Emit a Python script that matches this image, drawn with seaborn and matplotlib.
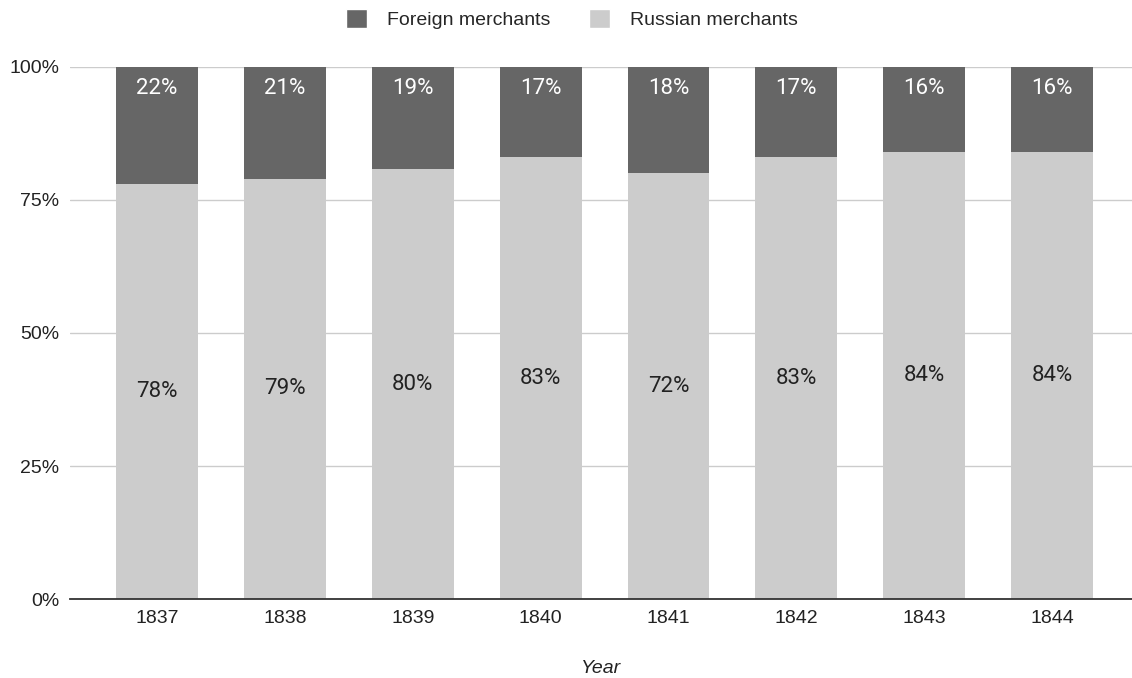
import matplotlib
matplotlib.use("Agg")
import matplotlib.pyplot as plt
import seaborn as sns
import pandas as pd
from matplotlib.patches import Patch
from matplotlib.ticker import FuncFormatter

# data (labels are raw values, bars are normalised to 100%)
years = ["1837", "1838", "1839", "1840", "1841", "1842", "1843", "1844"]
russian = [78, 79, 80, 83, 72, 83, 84, 84]
foreign = [22, 21, 19, 17, 18, 17, 16, 16]

df = pd.DataFrame({"Year": years, "Russian": russian, "Foreign": foreign})
df["Total"] = df["Russian"] + df["Foreign"]
df["russian_share"] = df["Russian"] / df["Total"]
df["full"] = 1.0

sns.set_style("white")
plt.rcParams["font.family"] = ["Liberation Sans", "DejaVu Sans"]

fig = plt.figure(figsize=(11.32, 6.78), dpi=100)
ax = fig.add_axes([0.062, 0.1165, 0.938, 0.7847])

dark = "#666666"
light = "#cccccc"

# full bar in foreign colour, russian share drawn over it
sns.barplot(data=df, x="Year", y="full", color=dark, width=0.64, ax=ax,
            saturation=1, linewidth=0, zorder=2)
sns.barplot(data=df, x="Year", y="russian_share", color=light, width=0.64, ax=ax,
            saturation=1, linewidth=0, zorder=3)

lab_font = ["Roboto", "DejaVu Sans"]
for i, row in df.iterrows():
    ax.text(i, 0.96, f"{row['Foreign']}%", ha="center", va="center",
            color="white", fontsize=16, family=lab_font, zorder=5)
    ax.text(i, row["russian_share"] / 2, f"{row['Russian']}%", ha="center", va="center",
            color="#222222", fontsize=16, family=lab_font, zorder=5)

ax.set_ylim(0, 1)
ax.set_xlim(-0.68, 7.626)
ax.set_yticks([0, 0.25, 0.5, 0.75, 1.0])
ax.yaxis.set_major_formatter(FuncFormatter(lambda v, p: f"{v*100:.0f}%"))
ax.grid(axis="y", color="#cccccc", linewidth=1, zorder=0)
ax.set_axisbelow(True)

for s in ["top", "right", "left"]:
    ax.spines[s].set_visible(False)
ax.spines["bottom"].set_color("#333333")
ax.spines["bottom"].set_linewidth(1.3)
ax.spines["bottom"].set_zorder(6)

ax.tick_params(axis="both", length=0, labelsize=14, labelcolor="#222222")
ax.tick_params(axis="x", pad=8)
ax.tick_params(axis="y", pad=8)
ax.set_ylabel("")
ax.set_xlabel("Year", fontsize=14, style="italic", color="#222222", labelpad=24)

handles = [Patch(facecolor=dark, label="Foreign merchants"),
           Patch(facecolor=light, label="Russian merchants")]
fig.legend(handles=handles, loc="center", bbox_to_anchor=(0.505, 0.972), ncol=2,
           frameon=False, fontsize=14, handlelength=1.1, handleheight=1.1,
           columnspacing=2.0, handletextpad=1.0)

fig.savefig("out.png", dpi=100)
